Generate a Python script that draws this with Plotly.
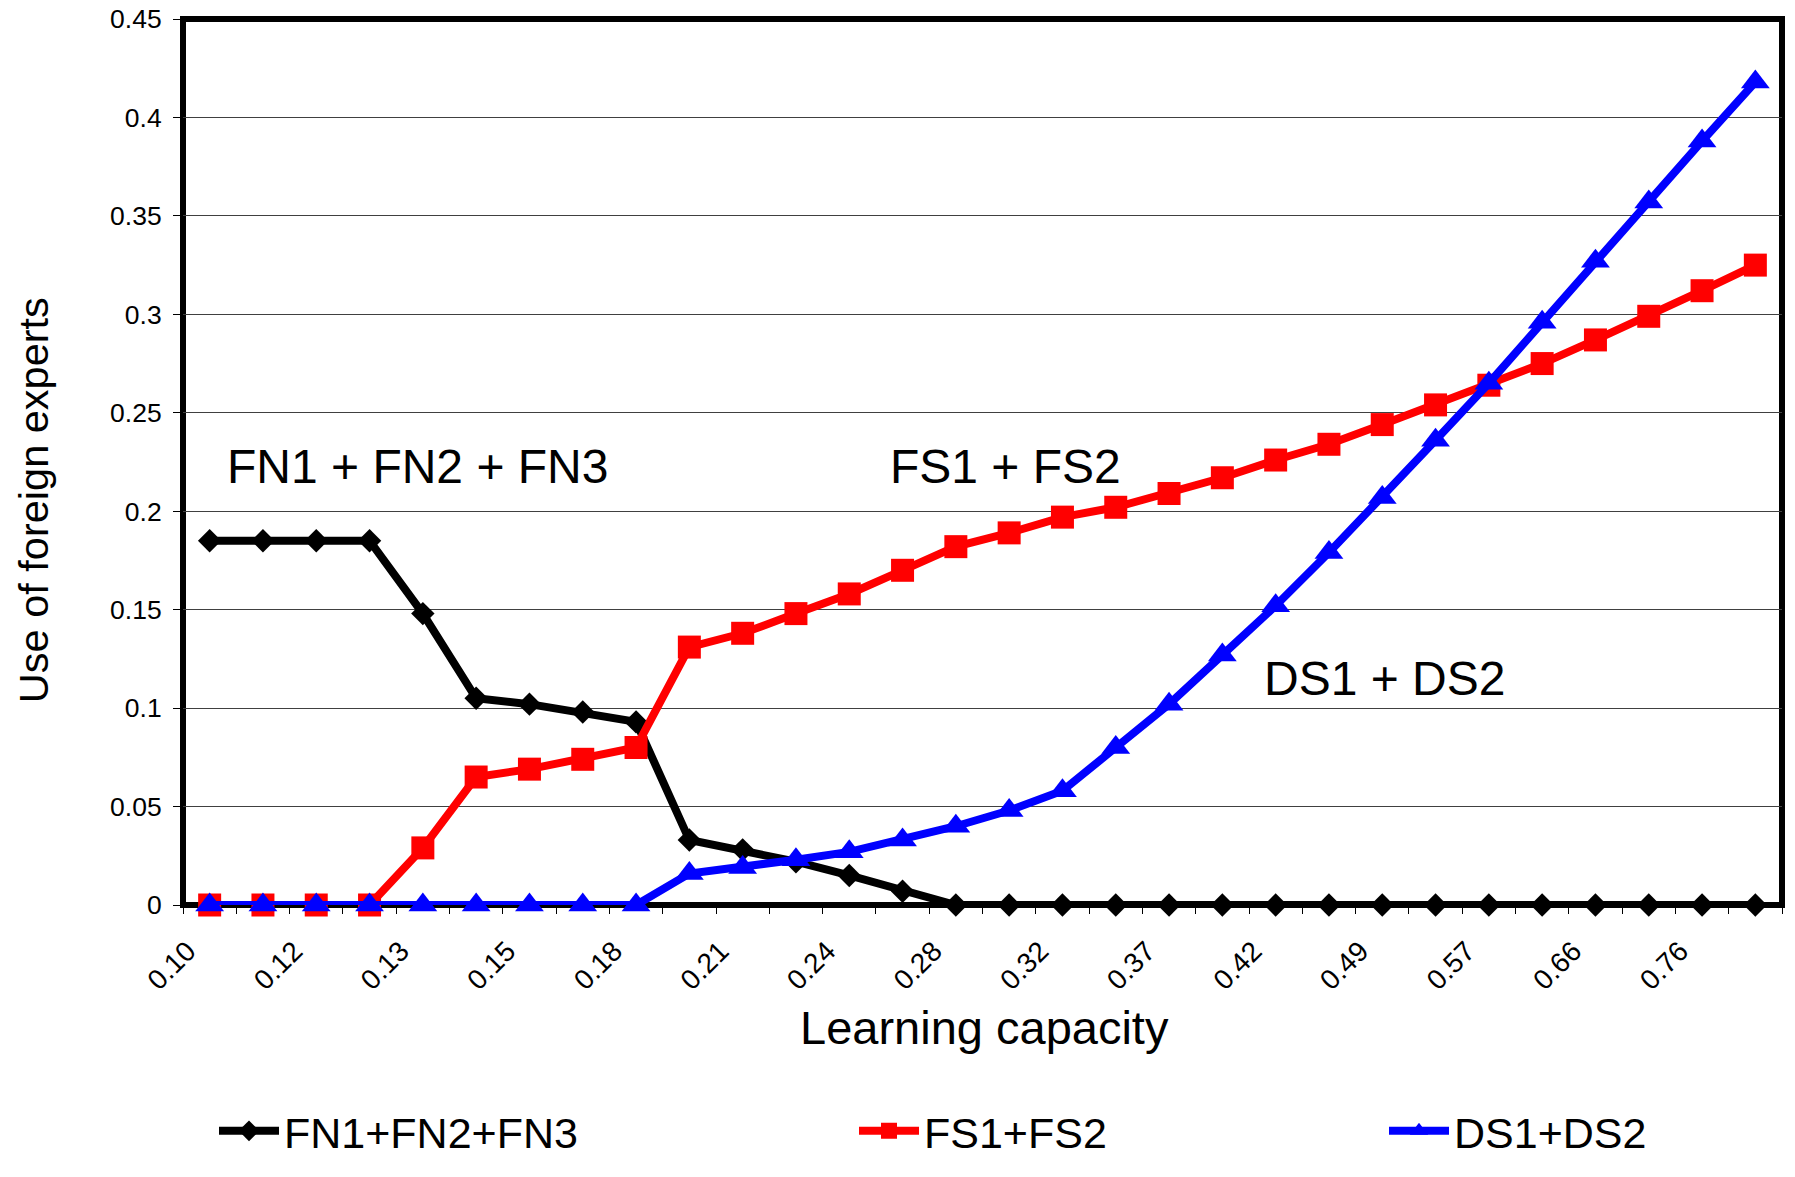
import plotly.graph_objects as go

# Learning capacity categories (30 steps); only every other one is labelled
capacity = ["0.100", "0.108", "0.116", "0.124", "0.134", "0.144", "0.155", "0.166",
            "0.179", "0.192", "0.207", "0.222", "0.239", "0.257", "0.276", "0.297",
            "0.319", "0.343", "0.369", "0.397", "0.426", "0.458", "0.493", "0.530",
            "0.570", "0.612", "0.659", "0.708", "0.762", "0.819"]
tick_labels = ["0.10", "0.12", "0.13", "0.15", "0.18", "0.21", "0.24", "0.28",
               "0.32", "0.37", "0.42", "0.49", "0.57", "0.66", "0.76"]

fn_total = [0.185, 0.185, 0.185, 0.185, 0.148, 0.105, 0.102, 0.098, 0.093, 0.033,
            0.028, 0.022, 0.015, 0.007, 0.0, 0.0, 0.0, 0.0, 0.0, 0.0,
            0.0, 0.0, 0.0, 0.0, 0.0, 0.0, 0.0, 0.0, 0.0, 0.0]
fs_total = [0.0, 0.0, 0.0, 0.0, 0.029, 0.065, 0.069, 0.074, 0.080, 0.131,
            0.138, 0.148, 0.158, 0.170, 0.182, 0.189, 0.197, 0.202, 0.209, 0.217,
            0.226, 0.234, 0.244, 0.254, 0.264, 0.275, 0.287, 0.299, 0.312, 0.325]
ds_total = [0.0, 0.0, 0.0, 0.0, 0.0, 0.0, 0.0, 0.0, 0.0, 0.016,
            0.019, 0.023, 0.027, 0.033, 0.040, 0.048, 0.058, 0.080, 0.102, 0.127,
            0.152, 0.179, 0.207, 0.236, 0.265, 0.296, 0.327, 0.357, 0.388, 0.418]

y_ticks = [0, 0.05, 0.1, 0.15, 0.2, 0.25, 0.3, 0.35, 0.4, 0.45]
y_tick_labels = ["0", "0.05", "0.1", "0.15", "0.2", "0.25", "0.3", "0.35", "0.4", "0.45"]

FONT = "Liberation Sans, Arial, sans-serif"

# tick text: label every other category
label_iter = iter(tick_labels)
tick_text = [next(label_iter) if i % 2 == 0 else "" for i in range(len(capacity))]

fig = go.Figure()
fig.add_trace(go.Scatter(
    x=capacity, y=fn_total, name="FN1+FN2+FN3", mode="lines+markers",
    line=dict(color="black", width=8),
    marker=dict(symbol="diamond", size=18, color="black"),
    cliponaxis=False, legend="legend"))
fig.add_trace(go.Scatter(
    x=capacity, y=fs_total, name="FS1+FS2", mode="lines+markers",
    line=dict(color="#ff0000", width=8),
    marker=dict(symbol="square", size=23, color="#ff0000"),
    cliponaxis=False, legend="legend2"))
fig.add_trace(go.Scatter(
    x=capacity, y=ds_total, name="DS1+DS2", mode="lines+markers",
    line=dict(color="#0000ff", width=8),
    marker=dict(symbol="triangle-up", size=25, color="#0000ff"),
    cliponaxis=False, legend="legend3"))

W, H = 1795, 1177
L, R, T, B = 183, 13, 19, 252
pw = W - L - R
ph = H - T - B

def px_x(p):
    return (p - L) / pw

def px_y(p):
    return (H - B - p) / ph

legend_common = dict(orientation="h", xanchor="left", yanchor="middle",
                     font=dict(family=FONT, size=43, color="black"),
                     bgcolor="rgba(0,0,0,0)", borderwidth=0, itemwidth=60)

fig.update_layout(
    width=W, height=H,
    margin=dict(l=L, r=R, t=T, b=B),
    paper_bgcolor="white", plot_bgcolor="white",
    font=dict(family=FONT, color="black"),
    showlegend=True,
    xaxis=dict(
        type="category", categoryorder="array", categoryarray=capacity,
        range=[-0.5, len(capacity) - 0.5],
        tickmode="array", tickvals=capacity, ticktext=tick_text,
        tickson="boundaries", ticks="outside", ticklen=8, tickwidth=1, tickcolor="black",
        tickangle=-45, tickfont=dict(family=FONT, size=28, color="black"),
        ticklabelstandoff=23, ticklabelshift=-22,
        showgrid=False, showline=False, zeroline=False,
        automargin=False,
    ),
    yaxis=dict(
        range=[0, 0.45], tickmode="array", tickvals=y_ticks, ticktext=y_tick_labels,
        ticks="outside", ticklen=9, tickwidth=1, tickcolor="black",
        tickfont=dict(family=FONT, size=26.5, color="black"),
        ticklabelstandoff=6,
        showgrid=True, gridcolor="#404040", gridwidth=1,
        showline=False, zeroline=False, automargin=False,
    ),
    legend=dict(x=px_x(214), y=px_y(1156), **legend_common),
    legend2=dict(x=px_x(854), y=px_y(1156), **legend_common),
    legend3=dict(x=px_x(1384), y=px_y(1156), **legend_common),
    shapes=[dict(type="rect", xref="paper", yref="paper", x0=0, y0=0, x1=1, y1=1,
                 line=dict(color="black", width=6), fillcolor="rgba(0,0,0,0)",
                 layer="below")],
    annotations=[
        dict(text="Use of foreign experts", textangle=-90, xref="paper", yref="paper",
             x=px_x(33), y=px_y(511), xanchor="center", yanchor="middle", showarrow=False,
             font=dict(family=FONT, size=41.5, color="black")),
        dict(text="Learning capacity", xref="paper", yref="paper",
             x=px_x(984), y=px_y(1050), xanchor="center", yanchor="middle", showarrow=False,
             font=dict(family=FONT, size=47, color="black")),
        dict(text="FN1 + FN2 + FN3", xref="paper", yref="paper",
             x=px_x(225), y=px_y(477), xanchor="left", yanchor="middle", showarrow=False,
             font=dict(family=FONT, size=48, color="black")),
        dict(text="FS1 + FS2", xref="paper", yref="paper",
             x=px_x(888), y=px_y(477), xanchor="left", yanchor="middle", showarrow=False,
             font=dict(family=FONT, size=48, color="black")),
        dict(text="DS1 + DS2", xref="paper", yref="paper",
             x=px_x(1262), y=px_y(693), xanchor="left", yanchor="middle", showarrow=False,
             font=dict(family=FONT, size=48, color="black")),
    ],
)

fig.write_html("out.html", config={"displayModeBar": False},
               post_script="document.body.style.margin='0';")
